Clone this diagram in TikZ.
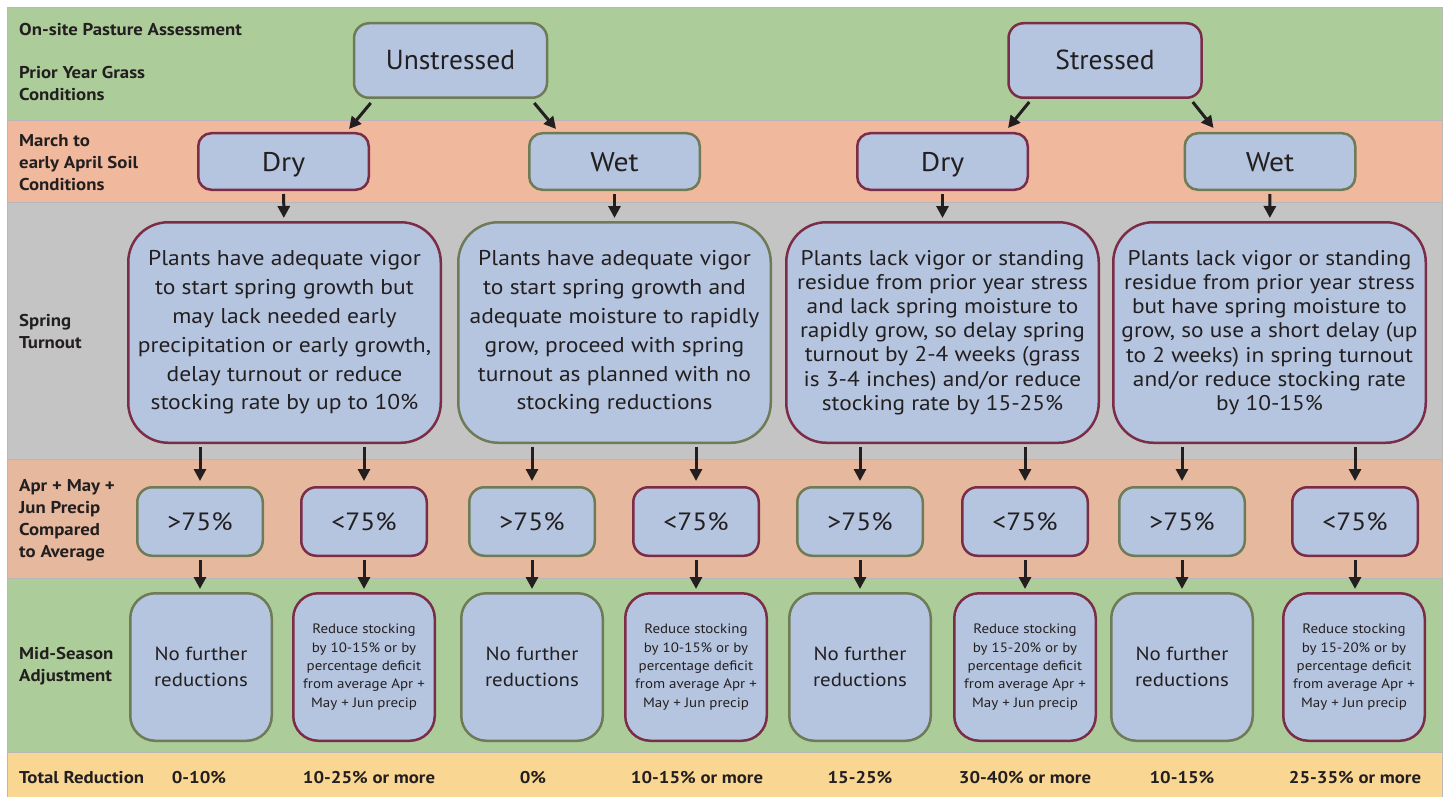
\documentclass[tikz,border=0pt]{standalone}
\usepackage{fontspec}
\setmainfont{PT Sans}[FakeStretch=1.1]
\newfontfamily\plainsans{PT Sans}
\usetikzlibrary{arrows.meta,calc}
\definecolor{bandgreen}{HTML}{ACCD9A}
\definecolor{bandsalmon}{HTML}{F0B89D}
\definecolor{bandsalmonb}{HTML}{E6B99E}
\definecolor{bandgray}{HTML}{C4C4C4}
\definecolor{bandyellow}{HTML}{F9D692}
\definecolor{boxblue}{HTML}{B5C5DF}
\definecolor{edgegreen}{HTML}{6E7B56}
\definecolor{edgered}{HTML}{7B2C47}
\definecolor{ink}{HTML}{231F20}
\tikzset{
  band/.style={draw=black!28, line width=1pt},
  rowlabel/.style={anchor=west, align=left, inner sep=0pt, text=ink,
    font=\fontsize{17.1}{22}\selectfont\bfseries},
  total/.style={inner sep=0pt, text=ink, font=\fontsize{17}{20}\selectfont\bfseries},
  choice/.style={fill=boxblue, line width=2.5pt, text=ink, inner sep=0pt, align=center},
  ok/.style={draw=edgegreen},
  bad/.style={draw=edgered},
  headbox/.style={choice, minimum width=193pt, minimum height=74.5pt, rounded corners=15pt,
    text height=19pt, text depth=0pt, font=\plainsans\fontsize{27.5}{32}\selectfont},
  soilbox/.style={choice, minimum width=170.5pt, minimum height=56.5pt, rounded corners=13pt,
    text height=19pt, text depth=0pt, font=\fontsize{27}{32}\selectfont},
  turnbox/.style={choice, minimum width=312.5pt, minimum height=220.5pt, rounded corners=40pt},
  precbox/.style={choice, minimum width=125.5pt, minimum height=68.5pt, rounded corners=15pt,
    text height=18pt, text depth=0pt, font=\fontsize{25}{30}\selectfont},
  midbox/.style={choice, minimum width=141.5pt, minimum height=147.5pt, rounded corners=25pt},
  nofurther/.style={midbox, font=\fontsize{19}{26}\selectfont},
  reduce/.style={midbox, font=\fontsize{13.6}{18.3}\selectfont},
  flow/.style={draw=ink, line width=3pt, -{Triangle[length=12pt,width=12pt]}}
}

\begin{document}
\begin{tikzpicture}[x=1pt,y=-1pt]
  \useasboundingbox (0,0) rectangle (1445,797);
  \fill[white] (0,0) rectangle (1445,797);

  \filldraw[band, fill=bandgreen] (7,8) rectangle (1442,121);
  \filldraw[band, fill=bandsalmon] (7,121) rectangle (1442,202);
  \filldraw[band, fill=bandgray] (7,202) rectangle (1442,459);
  \filldraw[band, fill=bandsalmonb] (7,459) rectangle (1442,578);
  \filldraw[band, fill=bandgreen] (7,578) rectangle (1442,752);
  \filldraw[band, fill=bandyellow] (7,752) rectangle (1442,805);

  \node[rowlabel] (lbassess) at (19,30) {On-site Pasture Assessment};
  \node[rowlabel] (lbprior) at (19,84) {Prior Year Grass\\Conditions};
  \node[rowlabel] (lbsoil) at (19,163) {March to\\early April Soil\\Conditions};
  \node[rowlabel] (lbturn) at (19,332) {Spring\\Turnout};
  \node[rowlabel] (lbprecip) at (19,520) {Apr + May +\\Jun Precip\\Compared\\to Average};
  \node[rowlabel] (lbmid) at (19,666) {Mid-Season\\Adjustment};
  \node[rowlabel] (lbtotal) at (19,778) {Total Reduction};

  \node[headbox, ok] (unst) at (450.5,60.5) {Unstressed};
  \node[headbox, bad] (str) at (1105,60.5) {Stressed};

  \node[soilbox, bad] (dry1) at (283.5,161.5) {Dry};
  \node[soilbox, ok] (wet1) at (614.5,161.5) {Wet};
  \node[soilbox, bad] (dry2) at (942.5,161.5) {Dry};
  \node[soilbox, ok] (wet2) at (1270,161.5) {Wet};

  \node[turnbox, bad, font=\fontsize{21.4}{28.8}\selectfont] (sp1) at (284.5,332.5)
    {Plants have adequate vigor\\to start spring growth but\\may lack needed early\\precipitation or early growth,\\delay turnout or reduce\\stocking rate by up to 10\%};
  \node[turnbox, ok, font=\fontsize{21.4}{28.8}\selectfont] (sp2) at (614.5,332.5)
    {Plants have adequate vigor\\to start spring growth and\\adequate moisture to rapidly\\grow, proceed with spring\\turnout as planned with no\\stocking reductions};
  \node[turnbox, bad, font=\fontsize{21.2}{24.2}\selectfont] (sp3) at (942.5,332.5)
    {Plants lack vigor or standing\\residue from prior year stress\\and lack spring moisture to\\rapidly grow, so delay spring\\turnout by 2-4 weeks (grass\\is 3-4 inches) and/or reduce\\stocking rate by 15-25\%};
  \node[turnbox, bad, font=\fontsize{21.2}{24.2}\selectfont] (sp4) at (1269.5,332.5)
    {Plants lack vigor or standing\\residue from prior year stress\\but have spring moisture to\\grow, so use a short delay (up\\to 2 weeks) in spring turnout\\and/or reduce stocking rate\\by 10-15\%};

  \node[precbox, ok] (pr1) at (200,521.5) {>75\%};
  \node[precbox, bad] (pr2) at (364,521.5) {<75\%};
  \node[precbox, ok] (pr3) at (532,521.5) {>75\%};
  \node[precbox, bad] (pr4) at (696,521.5) {<75\%};
  \node[precbox, ok] (pr5) at (860,521.5) {>75\%};
  \node[precbox, bad] (pr6) at (1025,521.5) {<75\%};
  \node[precbox, ok] (pr7) at (1182,521.5) {>75\%};
  \node[precbox, bad] (pr8) at (1355,521.5) {<75\%};

  \node[nofurther, ok] (md1) at (201,667) {No further\\reductions};
  \node[reduce, bad] (md2) at (364,667) {Reduce stocking\\by 10-15\% or by\\percentage deficit\\from average Apr +\\May + Jun precip};
  \node[nofurther, ok] (md3) at (532,667) {No further\\reductions};
  \node[reduce, bad] (md4) at (696,667) {Reduce stocking\\by 10-15\% or by\\percentage deficit\\from average Apr +\\May + Jun precip};
  \node[nofurther, ok] (md5) at (860,667) {No further\\reductions};
  \node[reduce, bad] (md6) at (1025,667) {Reduce stocking\\by 15-20\% or by\\percentage deficit\\from average Apr +\\May + Jun precip};
  \node[nofurther, ok] (md7) at (1182,667) {No further\\reductions};
  \node[reduce, bad] (md8) at (1354,667) {Reduce stocking\\by 15-20\% or by\\percentage deficit\\from average Apr +\\May + Jun precip};

  \node[total] (tr1) at (199,778) {0-10\%};
  \node[total] (tr2) at (369,778) {10-25\% or more};
  \node[total] (tr3) at (533,778) {0\%};
  \node[total] (tr4) at (697,778) {10-15\% or more};
  \node[total] (tr5) at (860,778) {15-25\%};
  \node[total] (tr6) at (1025,778) {30-40\% or more};
  \node[total] (tr7) at (1182,778) {10-15\%};
  \node[total] (tr8) at (1355,778) {25-35\% or more};

  \draw[flow] ([xshift=18pt,yshift=-4pt]unst.south west) -- ([xshift=-21pt,yshift=3pt]dry1.north east);
  \draw[flow] ([xshift=-14pt,yshift=-4pt]unst.south east) -- ([xshift=28pt,yshift=3pt]wet1.north west);
  \draw[flow] ([xshift=22pt,yshift=-3pt]str.south west) -- ([xshift=-21pt,yshift=4pt]dry2.north east);
  \draw[flow] ([xshift=-10pt,yshift=-3pt]str.south east) -- ([xshift=30pt,yshift=4pt]wet2.north west);

  \draw[flow, shorten <=3pt, shorten >=3pt] (dry1) -- (sp1);
  \draw[flow, shorten <=3pt, shorten >=3pt] (wet1) -- (sp2);
  \draw[flow, shorten <=3pt, shorten >=3pt] (dry2) -- (sp3);
  \draw[flow, shorten <=3pt, shorten >=3pt] (wet2) -- (sp4);

  \foreach \i/\s in {1/1,2/1,3/2,4/2,5/3,6/3,7/4,8/4}{
    \draw[flow, shorten <=3pt, shorten >=5pt] (sp\s.south -| pr\i.north) -- (pr\i.north);
    \draw[flow, shorten <=3pt, shorten >=3pt] (pr\i.south) -- (pr\i.south |- md\i.north);
  }
\end{tikzpicture}
\end{document}
